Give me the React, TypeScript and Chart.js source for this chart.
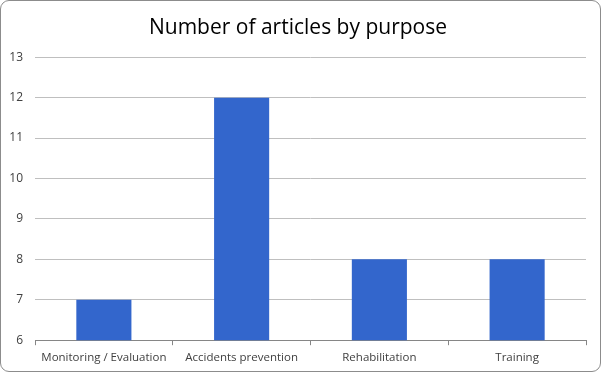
import React, { useEffect, useRef } from "react";
import { Chart, registerables } from "chart.js";

Chart.register(...registerables);

const categories = ["Monitoring / Evaluation", "Accidents prevention", "Rehabilitation", "Training"];
const articleCounts = [7, 12, 8, 8];
const yMin = 6;
const yMax = 13;
const chartTitle = "Number of articles by purpose";

export default function App() {
  const ref = useRef<HTMLCanvasElement | null>(null);

  useEffect(() => {
    document.body.style.margin = "0";
    const canvas = ref.current;
    if (!canvas) return;
    const chart = new Chart(canvas, {
      type: "bar",
      data: {
        labels: categories,
        datasets: [
          {
            data: articleCounts,
            backgroundColor: "#3366CC",
            barPercentage: 0.4,
            categoryPercentage: 1,
          },
        ],
      },
      options: {
        animation: false,
        responsive: false,
        maintainAspectRatio: false,
        layout: { padding: { left: 9, right: 14, top: 6, bottom: 0 } },
        plugins: {
          legend: { display: false },
          tooltip: { enabled: false },
          title: {
            display: true,
            text: chartTitle,
            color: "#000000",
            font: { family: "Open Sans", size: 21, weight: "normal" },
            padding: { top: 8, bottom: 17 },
          },
        },
        scales: {
          x: {
            afterFit: (scale: any) => {
              scale.paddingLeft = 0;
              scale.paddingRight = 0;
            },
            grid: {
              offset: true,
              drawOnChartArea: false,
              drawTicks: true,
              tickLength: 5,
              color: "#868686",
            },
            border: { color: "#868686" },
            ticks: {
              color: "#404040",
              font: { family: "Open Sans", size: 11.5 },
              padding: 6,
              maxRotation: 0,
            },
          },
          y: {
            min: yMin,
            max: yMax,
            afterFit: (scale: any) => {
              scale.width = 25;
            },
            ticks: {
              stepSize: 1,
              color: "#404040",
              font: { family: "Open Sans", size: 12 },
              padding: 12,
            },
            grid: { color: "#BFBFBF", drawTicks: false },
            border: { display: false },
          },
        },
      },
    });
    return () => chart.destroy();
  }, []);

  return (
    <div
      style={{
        position: "absolute",
        left: 0,
        top: 0,
        width: 601,
        height: 372,
        boxSizing: "border-box",
        border: "1px solid #8C8C8C",
        borderRadius: 9,
        background: "#fff",
        overflow: "hidden",
      }}
    >
      <canvas ref={ref} width={599} height={370} style={{ display: "block" }} />
    </div>
  );
}
